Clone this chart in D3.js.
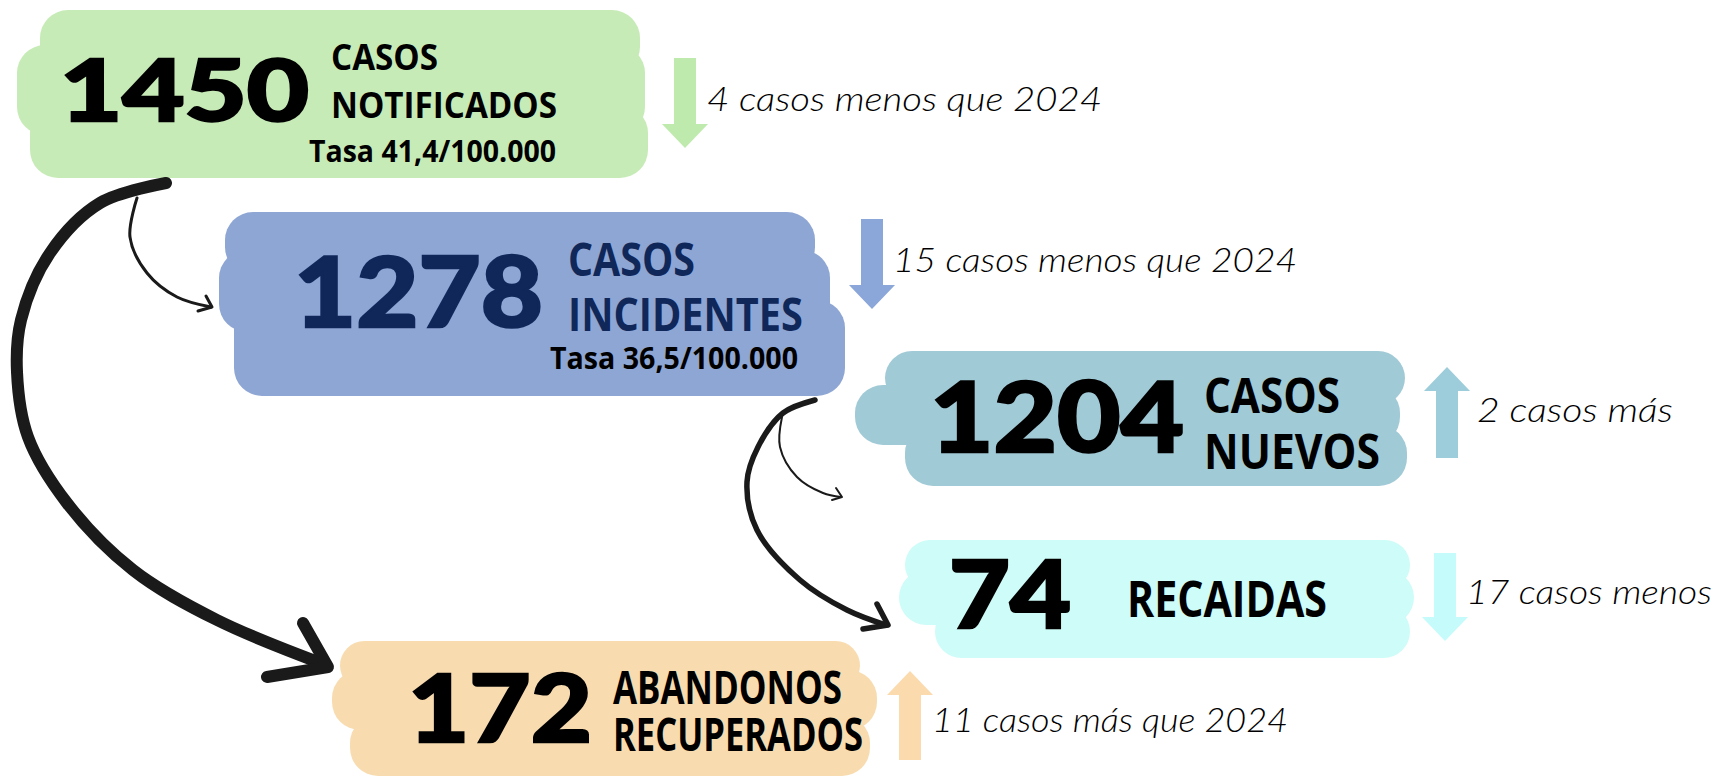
<!DOCTYPE html>
<html>
<head>
<meta charset="utf-8">
<script src="https://cdn.jsdelivr.net/npm/d3@7"></script>
<style>
  html, body { margin: 0; padding: 0; background: #fff; }
  svg { display: block; }
</style>
</head>
<body>
<script>
// values shown on each card
var values = [1450, 1278, 1204, 74, 172];
var labels = [["CASOS", "NOTIFICADOS"], ["CASOS", "INCIDENTES"], ["CASOS", "NUEVOS"], ["RECAIDAS"], ["ABANDONOS", "RECUPERADOS"]];
var rates = ["Tasa 41,4/100.000", "Tasa 36,5/100.000", null, null, null];
var changes = ["4 casos menos que 2024", "15 casos menos que 2024", "2 casos más", "17 casos menos", "11 casos más que 2024"];
var trend = ["down", "down", "up", "down", "up"];

var width = 1719, height = 780;

var fill = d3.scaleOrdinal()
    .domain(d3.range(5))
    .range(["#c7ebb7", "#8ea6d4", "#a1cad7", "#cefcf8", "#f8dcb0"]);
var arrowFill = d3.scaleOrdinal()
    .domain(d3.range(5))
    .range(["#bfeaad", "#8ba6d8", "#9dcddb", "#c6fbfb", "#fbdbae"]);
var ink = ["#000", "#10275a", "#000", "#000", "#000"];

// layout: brush bands of each blob, text boxes, arrows
var layout = [
  { bands: [[40, 640, 10, 75], [17, 645, 45, 135], [30, 648, 105, 178]],
    num: { x: 60, y: 121, w: 249, fs: 86 },
    lab: [{ x: 331, y: 70, w: 107 }, { x: 331, y: 118, w: 226 }], lfs: 36,
    rate: { x: 309, y: 162, w: 247, fs: 30 },
    arrow: { x: 685, y0: 58, y1: 148 }, chg: { x: 707, y: 111, w: 395 } },
  { bands: [[225, 815, 212, 275], [219, 830, 250, 332], [234, 845, 300, 396]],
    num: { x: 294, y: 327, w: 249, fs: 98 },
    lab: [{ x: 568, y: 276, w: 127 }, { x: 568, y: 331, w: 235 }], lfs: 46,
    rate: { x: 550, y: 369, w: 248, fs: 31 },
    arrow: { x: 872, y0: 219, y1: 309 }, chg: { x: 893, y: 272, w: 404 } },
  { bands: [[885, 1405, 351, 405], [855, 1400, 385, 445], [905, 1407, 425, 486]],
    num: { x: 930, y: 452, w: 254, fs: 98 },
    lab: [{ x: 1204, y: 413, w: 136 }, { x: 1204, y: 469, w: 176 }], lfs: 48,
    arrow: { x: 1447, y0: 458, y1: 367 }, chg: { x: 1477, y: 422, w: 196 } },
  { bands: [[905, 1410, 540, 590], [899, 1414, 570, 625], [935, 1410, 605, 658]],
    num: { x: 949, y: 628, w: 122, fs: 93 },
    lab: [{ x: 1127, y: 617, w: 200 }], lfs: 50,
    arrow: { x: 1445, y0: 553, y1: 641 }, chg: { x: 1466, y: 604, w: 246 } },
  { bands: [[340, 860, 641, 690], [332, 877, 670, 730], [350, 870, 715, 776]],
    num: { x: 408, y: 742, w: 184, fs: 94 },
    lab: [{ x: 613, y: 704, w: 229 }, { x: 613, y: 751, w: 250 }], lfs: 46,
    arrow: { x: 910, y0: 760, y1: 671 }, chg: { x: 932, y: 732, w: 356 } }
];

// connector curves (hand drawn look)
var connectors = [
  { pts: [[166, 183], [100, 203], [50, 253], [21, 320], [17, 372], [28, 437], [67, 503], [133, 570], [217, 620], [326, 665]],
    head: [[303, 623], [328, 667], [267, 677]], w: 12 },
  { pts: [[137, 198], [130, 237], [147, 273], [177, 297], [211, 307]],
    head: [[206, 296], [212, 307], [198, 311]], w: 3 },
  { pts: [[815, 400], [783, 413], [758, 447], [747, 482], [757, 530], [800, 580], [847, 610], [886, 625]],
    head: [[877, 604], [888, 625], [863, 629]], w: 5.5 },
  { pts: [[782, 417], [780, 447], [797, 477], [823, 493], [841, 497]],
    head: [[836, 488], [842, 497], [832, 500]], w: 2 }
];

var svg = d3.select("body").append("svg")
    .attr("width", width)
    .attr("height", height);

svg.append("rect").attr("width", width).attr("height", height).attr("fill", "#fff");

var cards = svg.selectAll("g.card")
    .data(values)
    .enter()
    .append("g")
    .attr("class", "card");

// brush blobs
cards.each(function (d, i) {
  var g = d3.select(this);
  g.selectAll("rect.band")
    .data(layout[i].bands)
    .enter()
    .append("rect")
    .attr("class", "band")
    .attr("x", function (b) { return b[0]; })
    .attr("y", function (b) { return b[2]; })
    .attr("width", function (b) { return b[1] - b[0]; })
    .attr("height", function (b) { return b[3] - b[2]; })
    .attr("rx", function (b) { return Math.min(28, (b[3] - b[2]) / 2); })
    .attr("fill", fill(i));
});

// big numbers
cards.append("text")
    .attr("x", function (d, i) { return layout[i].num.x; })
    .attr("y", function (d, i) { return layout[i].num.y; })
    .attr("textLength", function (d, i) { return layout[i].num.w; })
    .attr("lengthAdjust", "spacingAndGlyphs")
    .attr("font-family", "Lato, Roboto, sans-serif")
    .attr("font-weight", 900)
    .attr("font-size", function (d, i) { return layout[i].num.fs; })
    .attr("fill", function (d, i) { return ink[i]; })
    .attr("stroke", function (d, i) { return ink[i]; })
    .attr("stroke-width", 2.5)
    .text(function (d) { return d; });

// labels
cards.each(function (d, i) {
  d3.select(this).selectAll("text.lab")
    .data(labels[i])
    .enter()
    .append("text")
    .attr("class", "lab")
    .attr("x", function (t, j) { return layout[i].lab[j].x; })
    .attr("y", function (t, j) { return layout[i].lab[j].y; })
    .attr("textLength", function (t, j) { return layout[i].lab[j].w; })
    .attr("lengthAdjust", "spacingAndGlyphs")
    .attr("font-family", "'Open Sans', sans-serif")
    .attr("font-weight", 700)
    .attr("font-size", layout[i].lfs)
    .attr("fill", ink[i])
    .text(function (t) { return t; });
});

// rates
cards.each(function (d, i) {
  if (!rates[i]) return;
  var r = layout[i].rate;
  d3.select(this).append("text")
    .attr("x", r.x)
    .attr("y", r.y)
    .attr("textLength", r.w)
    .attr("lengthAdjust", "spacingAndGlyphs")
    .attr("font-family", "'Open Sans', sans-serif")
    .attr("font-weight", 700)
    .attr("font-size", r.fs)
    .attr("fill", "#000")
    .text(rates[i]);
});

// trend arrows
function arrowPath(a) {
  var dir = a.y1 > a.y0 ? 1 : -1, sw = 11, hw = 23, hl = 24;
  var p = d3.path();
  p.moveTo(a.x - sw, a.y0);
  p.lineTo(a.x - sw, a.y1 - dir * hl);
  p.lineTo(a.x - hw, a.y1 - dir * hl);
  p.lineTo(a.x, a.y1);
  p.lineTo(a.x + hw, a.y1 - dir * hl);
  p.lineTo(a.x + sw, a.y1 - dir * hl);
  p.lineTo(a.x + sw, a.y0);
  p.closePath();
  return p.toString();
}

cards.append("path")
    .attr("d", function (d, i) { return arrowPath(layout[i].arrow); })
    .attr("fill", function (d, i) { return arrowFill(i); });

cards.append("text")
    .attr("x", function (d, i) { return layout[i].chg.x; })
    .attr("y", function (d, i) { return layout[i].chg.y; })
    .attr("textLength", function (d, i) { return layout[i].chg.w; })
    .attr("lengthAdjust", "spacingAndGlyphs")
    .attr("font-family", "Lato, sans-serif")
    .attr("font-style", "italic")
    .attr("font-weight", 300)
    .attr("font-size", 33)
    .attr("fill", "#000")
    .text(function (d, i) { return changes[i]; });

// connectors
var line = d3.line().curve(d3.curveCatmullRom.alpha(0.5));
var links = svg.selectAll("g.link")
    .data(connectors)
    .enter()
    .append("g")
    .attr("class", "link");

links.append("path")
    .attr("d", function (c) { return line(c.pts); })
    .attr("fill", "none")
    .attr("stroke", "#1a1a1a")
    .attr("stroke-width", function (c) { return c.w; })
    .attr("stroke-linecap", "round");

links.append("path")
    .attr("d", function (c) { return d3.line()(c.head); })
    .attr("fill", "none")
    .attr("stroke", "#1a1a1a")
    .attr("stroke-width", function (c) { return c.w; })
    .attr("stroke-linecap", "round")
    .attr("stroke-linejoin", "round");
</script>
</body>
</html>
